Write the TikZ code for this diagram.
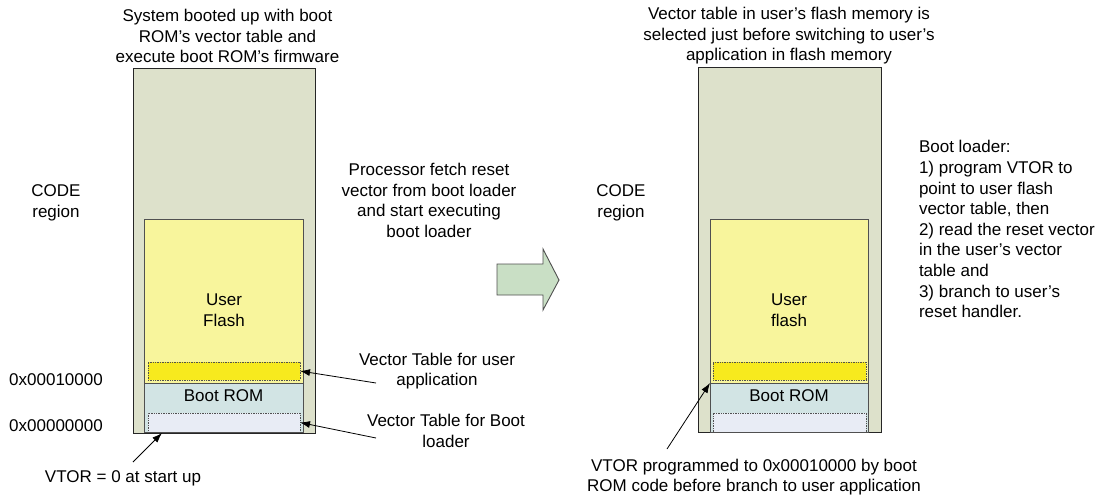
\documentclass[tikz,border=0pt]{standalone}
\usepackage{fontspec}
\setmainfont{Liberation Sans}
\usetikzlibrary{arrows.meta}
\definecolor{codebg}{HTML}{DDE1CB}
\definecolor{flashc}{HTML}{F8F59C}
\definecolor{vtuserc}{HTML}{F7EA1E}
\definecolor{romc}{HTML}{D2E4E4}
\definecolor{vtbootc}{HTML}{E8ECF5}
\definecolor{arrowc}{HTML}{C9DFC5}
\definecolor{edgec}{HTML}{505050}
\begin{document}
\begin{tikzpicture}[x=1pt,y=-1pt,
  font=\fontsize{17}{20.6}\selectfont,
  txt/.style={align=center, inner sep=0pt, outer sep=0pt},
  ltxt/.style={align=left, inner sep=0pt, outer sep=0pt},
  boxbase/.style={rectangle, inner sep=0pt, outer sep=0pt},
  regionbox/.style={boxbase, draw=black!85, fill=codebg, line width=0.9pt, minimum width=#1, minimum height=365},
  flashbox/.style={boxbase, draw=edgec, fill=flashc, line width=0.8pt, minimum height=164},
  rombox/.style={boxbase, draw=edgec, fill=romc, line width=0.8pt, minimum height=49},
  vtubox/.style={boxbase, draw=edgec, densely dotted, fill=vtuserc, line width=0.7pt, minimum height=18},
  vtbbox/.style={boxbase, draw=edgec, densely dotted, fill=vtbootc, line width=0.7pt, minimum height=19},
  conn/.style={draw=black, line width=0.8pt, -{Latex[length=10pt,width=7pt]}},
]
\useasboundingbox (0,0) rectangle (1105,499);
\fill[white] (0,0) rectangle (1105,499);

% ---------- left memory map ----------
\node[regionbox=182] (lout) at (224,250.5) {};
\node[flashbox, minimum width=159] (lflash) at (223.5,301) {};
\node[rombox, minimum width=159] (lrom) at (223.5,407.5) {};
\node[vtubox, minimum width=152] (lvtu) at (224,371) {};
\node[vtbbox, minimum width=152] (lvtb) at (224,422.5) {};
\node[txt] (lflashlbl) at (224,310) {User\\Flash};
\node[txt] (lromlbl) at (223.5,396) {Boot ROM};

\node[txt] (cap1) at (227.5,36) {System booted up with boot\\ROM’s vector table and\\execute boot ROM’s firmware};
\node[txt] (code1) at (56,203) {CODE\\region};
\node[txt] (addr1) at (56,380) {0x00010000};
\node[txt] (addr2) at (56,426) {0x00000000};
\node[txt] (vtor0) at (123,478) {VTOR = 0 at start up};
\node[txt] (proc) at (429,200.6) {Processor fetch reset\\vector from boot loader\\and start executing\\boot loader};
\node[txt] (vtutxt) at (437,371.2) {Vector Table for user\\application};
\node[txt] (vtbtxt) at (446,430.8) {Vector Table for Boot\\loader};

\coordinate (vtor0start) at (133,462);
\coordinate (vtor0end) at (162,433);
\coordinate (vtustart) at (376,383);
\coordinate (vtbstart) at (376,438);
\draw[conn] (vtor0start) -- (vtor0end);
\draw[conn] (vtustart) -- (lvtu.east);
\draw[conn] (vtbstart) -- (lvtb.east);

% ---------- block arrow ----------
\draw[draw=edgec, fill=arrowc, line width=0.9pt, line join=miter]
  (497,264) -- (543,264) -- (543,249) -- (559,280) -- (543,310) -- (543,295) -- (497,295) -- cycle;

% ---------- right memory map ----------
\node[regionbox=183] (rout) at (789.5,249.5) {};
\node[flashbox, minimum width=158] (rflash) at (789,301) {};
\node[rombox, minimum width=158] (rrom) at (789,407.5) {};
\node[vtubox, minimum width=153] (rvtu) at (789.5,371) {};
\node[vtbbox, minimum width=153] (rvtb) at (789.5,422.5) {};
\node[txt] (rflashlbl) at (789,310) {User\\flash};
\node[txt] (rromlbl) at (789,396) {Boot ROM};

\node[txt] (cap2) at (789,36) {Vector table in user’s flash memory is\\selected just before switching to user’s\\application in flash memory};
\node[txt] (code2) at (621,203) {CODE\\region};
\node[ltxt, anchor=west] (bl) at (919,229.2) {Boot loader:\\1) program VTOR to\\point to user flash\\vector table, then\\2) read the reset vector\\in the user’s vector\\table and\\3) branch to user’s\\reset handler.};
\node[txt] (vtor2) at (754,477) {VTOR programmed to 0x00010000 by boot\\ROM code before branch to user application};

\coordinate (vtor2start) at (667,449);
\draw[conn] (vtor2start) -- (rrom.north west);
\end{tikzpicture}
\end{document}
